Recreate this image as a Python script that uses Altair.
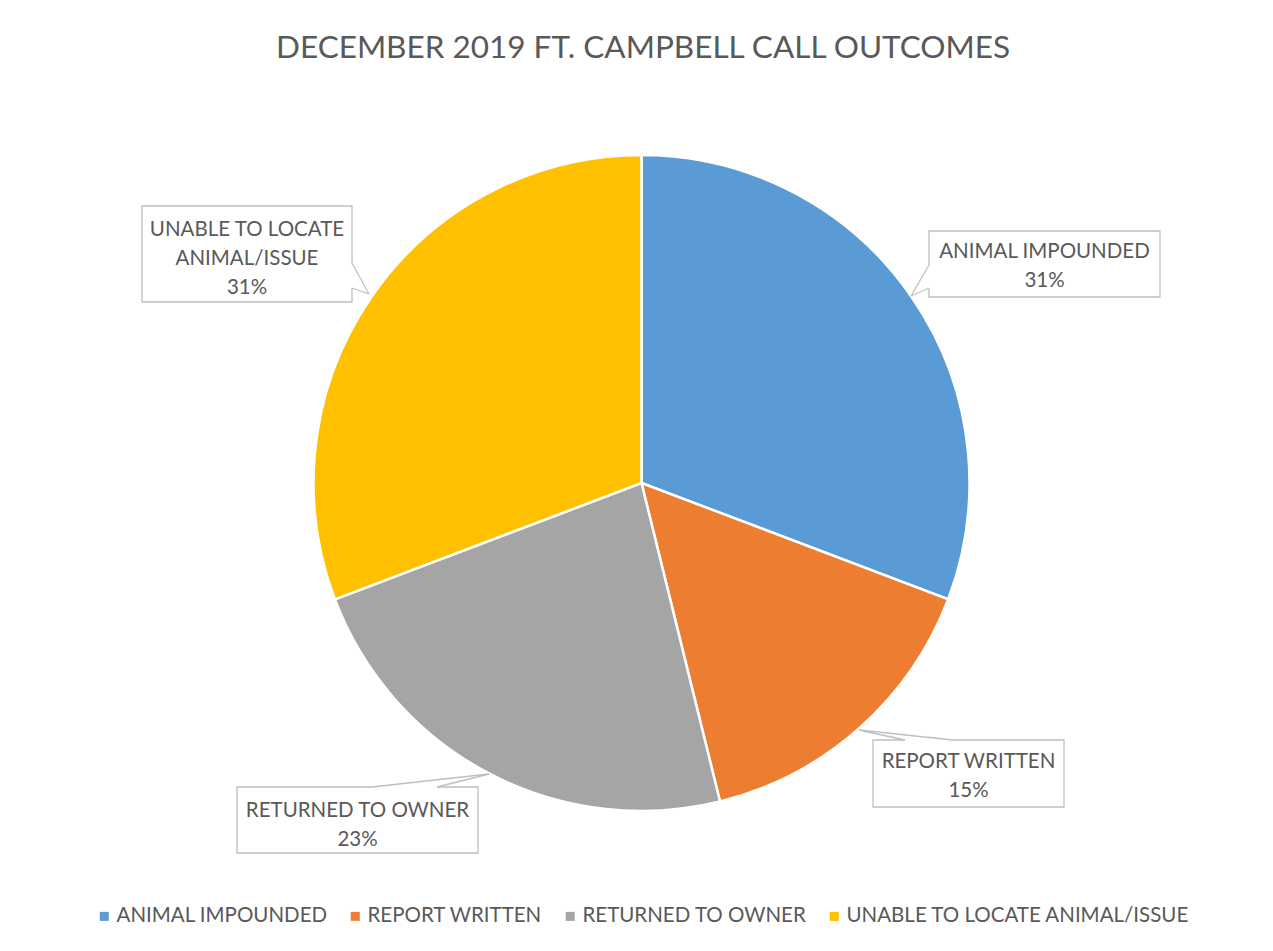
import altair as alt
import pandas as pd

# ---- data ----
categories = ["ANIMAL IMPOUNDED", "REPORT WRITTEN", "RETURNED TO OWNER", "UNABLE TO LOCATE ANIMAL/ISSUE"]
counts = [4, 2, 3, 4]
colors = ["#5B9BD5", "#ED7D31", "#A5A5A5", "#FFC000"]
callout_names = ["ANIMAL IMPOUNDED", "REPORT WRITTEN", "RETURNED TO OWNER", "UNABLE TO LOCATE\nANIMAL/ISSUE"]
title_text = "DECEMBER 2019 FT. CAMPBELL CALL OUTCOMES"

# ---- layout (reference page pixels) ----
OFF = 8
W, H = 1273 - 2 * OFF, 951 - 2 * OFF
CX, CY, R = 641.5 - OFF, 483 - OFF, 328
FONT = "Lato"
FS = 20.5
TXT = "#595959"
BOX = "#BFBFBF"
callout_layout = [
    dict(box=(929, 1160, 231, 297), base1=258, a=(929, 265), b=(929, 288), tip=(911, 296)),
    dict(box=(873, 1064, 740, 807), base1=768, a=(905, 740), b=(953, 740), tip=(859, 730)),
    dict(box=(237, 478, 787, 853), base1=817, a=(372, 787), b=(437, 787), tip=(489, 774)),
    dict(box=(142, 352, 206, 302), base1=236, a=(352, 263), b=(352, 288), tip=(369, 294)),
]

total = sum(counts)
pie_df = pd.DataFrame({"category": categories, "count": counts, "idx": list(range(len(categories)))})

box_rows, cover_rows, wedge_rows, text_rows = [], [], [], []
for name, c, lay in zip(callout_names, counts, callout_layout):
    x1, x2, y1, y2 = lay["box"]
    box_rows.append(dict(x=x1 - OFF, x2=x2 - OFF, y=y1 - OFF, y2=y2 - OFF))
    (ax, ay), (bx, by), (tx, ty) = lay["a"], lay["b"], lay["tip"]
    cover_rows.append(dict(x=ax - OFF, y=ay - OFF, x2=bx - OFF, y2=by - OFF))
    wedge_rows.append(dict(x=ax - OFF, y=ay - OFF, x2=tx - OFF, y2=ty - OFF))
    wedge_rows.append(dict(x=bx - OFF, y=by - OFF, x2=tx - OFF, y2=ty - OFF))
    pct = round(100 * c / total)
    text_rows.append(dict(x=(x1 + x2) / 2 - OFF, y=lay["base1"] - OFF, label=f"{name}\n{pct}%"))

box_df = pd.DataFrame(box_rows)
cover_df = pd.DataFrame(cover_rows)
wedge_df = pd.DataFrame(wedge_rows)
text_df = pd.DataFrame(text_rows)
title_df = pd.DataFrame({"t": [title_text], "x": [643 - OFF], "y": [58 - OFF]})

px = lambda f: alt.X(f"{f}:Q", scale=None, axis=None)
py = lambda f: alt.Y(f"{f}:Q", scale=None, axis=None)

pie = alt.Chart(pie_df).mark_arc(radius=R, stroke="white", strokeWidth=2.5, x=CX, y=CY).encode(
    theta=alt.Theta("count:Q", stack=True),
    color=alt.Color(
        "category:N",
        scale=alt.Scale(domain=categories, range=colors),
        legend=alt.Legend(
            title=None, orient="none", legendX=86, legendY=898, direction="horizontal", columns=4,
            symbolType="square", symbolSize=81, symbolStrokeWidth=0, symbolOffset=0,
            labelFont=FONT, labelFontSize=FS, labelColor=TXT, labelOffset=2, labelLimit=0,
            columnPadding=17, padding=0,
        ),
    ),
    order=alt.Order("idx:Q"),
)

boxes = alt.Chart(box_df).mark_rect(fill="white", stroke=BOX, strokeWidth=1.3).encode(
    x=px("x"), x2="x2:Q", y=py("y"), y2="y2:Q"
)
covers = alt.Chart(cover_df).mark_rule(color="white", strokeWidth=3).encode(
    x=px("x"), x2="x2:Q", y=py("y"), y2="y2:Q"
)
wedges = alt.Chart(wedge_df).mark_rule(color=BOX, strokeWidth=1.3).encode(
    x=px("x"), x2="x2:Q", y=py("y"), y2="y2:Q"
)
texts = alt.Chart(text_df).mark_text(
    font=FONT, fontSize=FS, color=TXT, lineBreak="\n", lineHeight=29, align="center", baseline="alphabetic"
).encode(x=px("x"), y=py("y"), text="label:N")
title = alt.Chart(title_df).mark_text(
    font=FONT, fontSize=31.5, color=TXT, align="center", baseline="alphabetic"
).encode(x=px("x"), y=py("y"), text="t:N")

chart = alt.layer(pie, boxes, covers, wedges, texts, title).properties(
    width=W, height=H, autosize="none", padding=0, background="white"
).configure_view(stroke=None)

chart.save("out.html", embed_options={"renderer": "svg", "actions": False})
